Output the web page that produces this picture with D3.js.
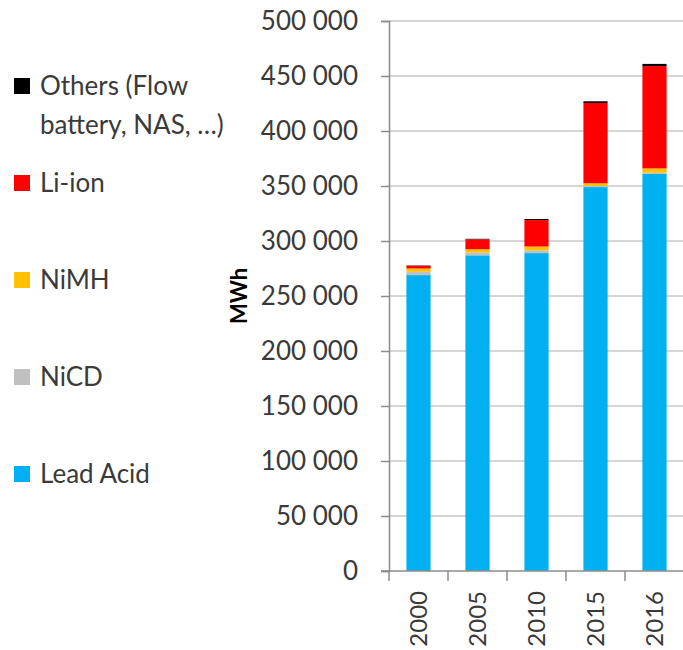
<!DOCTYPE html>
<html>
<head>
<meta charset="utf-8">
<script src="https://cdn.jsdelivr.net/npm/d3@7"></script>
<style>
  body { margin: 0; background: #fff; }
  text { font-family: Lato, "Open Sans", sans-serif; }
</style>
</head>
<body>
<svg id="chart" width="683" height="650"></svg>
<script>
const years = ["2000", "2005", "2010", "2015", "2016"]
const leadAcid = [269000, 287000, 289000, 349000, 361000]
const niCd = [3000, 2500, 2500, 1000, 1000]
const niMh = [3000, 3000, 3500, 2500, 4000]
const liIon = [2500, 9000, 24000, 73000, 93000]
const others = [300, 500, 1000, 1500, 2000]
const yTicks = [0, 50000, 100000, 150000, 200000, 250000, 300000, 350000, 400000, 450000, 500000]

const seriesNames = ["Lead Acid", "NiCD", "NiMH", "Li-ion", "Others (Flow battery, NAS, ...)"]
const seriesColors = ["#00b0f0", "#c0c0c0", "#ffc000", "#ff0000", "#000000"]
const seriesValues = [leadAcid, niCd, niMh, liIon, others]

const table = years.map((y, i) => {
  let row = { year: y }
  seriesNames.forEach((n, k) => row[n] = seriesValues[k][i])
  return row
})
const stacked = d3.stack().keys(seriesNames)(table)

const svg = d3.select("#chart")
const plotLeft = 389, plotRight = 684, plotTop = 21, plotBottom = 571
const axisColor = "#8c8c8c", textColor = "#3a3a3a"

const x = d3.scaleBand().domain(years).range([plotLeft, plotRight]).padding(0)
const y = d3.scaleLinear().domain([0, 500000]).range([plotBottom, plotTop])

// gridlines
svg.append("g").selectAll("line").data(yTicks.slice(1)).join("line")
  .attr("x1", plotLeft).attr("x2", plotRight)
  .attr("y1", d => y(d)).attr("y2", d => y(d))
  .attr("stroke", "#acacac").attr("stroke-width", 1)

// bars
const barW = x.bandwidth() * 0.41
svg.append("g").selectAll("g").data(stacked).join("g")
  .attr("fill", (d, i) => seriesColors[i])
  .selectAll("rect").data(d => d).join("rect")
  .attr("x", d => x(d.data.year) + (x.bandwidth() - barW) / 2)
  .attr("width", barW)
  .attr("y", d => y(d[1]))
  .attr("height", d => y(d[0]) - y(d[1]))

// y axis
const yAxis = svg.append("g").attr("transform", `translate(${plotLeft},0)`)
  .call(d3.axisLeft(y).tickValues(yTicks).tickSize(8).tickPadding(23)
    .tickFormat(d => d3.format(",")(d).replace(/,/g, " ")))
yAxis.select(".domain").attr("stroke", axisColor).attr("stroke-width", 1.5)
yAxis.selectAll(".tick line").attr("stroke", axisColor).attr("stroke-width", 1.5)
yAxis.selectAll(".tick text").attr("font-size", 26).attr("fill", textColor)
  .attr("font-family", "Lato, sans-serif")

// x axis
const xAxis = svg.append("g").attr("transform", `translate(0,${plotBottom})`)
  .call(d3.axisBottom(x).tickSize(0).tickFormat(d => d))
xAxis.select(".domain").attr("stroke", axisColor).attr("stroke-width", 1.5)
  .attr("d", `M${plotLeft - 8},0H${plotRight}`)
xAxis.selectAll(".tick text")
  .attr("font-size", 24).attr("fill", textColor).attr("font-family", "Lato, sans-serif")
  .attr("transform", "rotate(-90)")
  .attr("text-anchor", "end").attr("dy", "0.35em")
  .attr("x", -20).attr("y", 0)
xAxis.append("g").selectAll("line").data(years.concat(["end"])).join("line")
  .attr("x1", (d, i) => plotLeft + i * x.step()).attr("x2", (d, i) => plotLeft + i * x.step())
  .attr("y1", 0).attr("y2", 10)
  .attr("stroke", axisColor).attr("stroke-width", 1.5)

// y title
svg.append("text")
  .attr("transform", `translate(247,${(plotTop + plotBottom) / 2}) rotate(-90)`)
  .attr("text-anchor", "middle")
  .attr("font-size", 22).attr("font-weight", "bold").attr("fill", "#000")
  .text("MWh")

// legend
const legendItems = [
  { name: ["Others (Flow", "battery, NAS, …)"], color: "#000000", y: 86 },
  { name: ["Li-ion"], color: "#ff0000", y: 183 },
  { name: ["NiMH"], color: "#ffc000", y: 280 },
  { name: ["NiCD"], color: "#c0c0c0", y: 377 },
  { name: ["Lead Acid"], color: "#00b0f0", y: 474 }
]
const lg = svg.append("g").selectAll("g").data(legendItems).join("g")
  .attr("transform", d => `translate(0,${d.y})`)
lg.append("rect").attr("x", 14).attr("y", -8).attr("width", 16).attr("height", 16)
  .attr("fill", d => d.color)
lg.append("text").attr("x", 40).attr("font-size", 26).attr("fill", textColor)
  .selectAll("tspan").data(d => d.name).join("tspan")
  .attr("x", 40).attr("dy", (d, i) => i == 0 ? "0.35em" : 39)
  .text(d => d)
</script>
</body>
</html>
